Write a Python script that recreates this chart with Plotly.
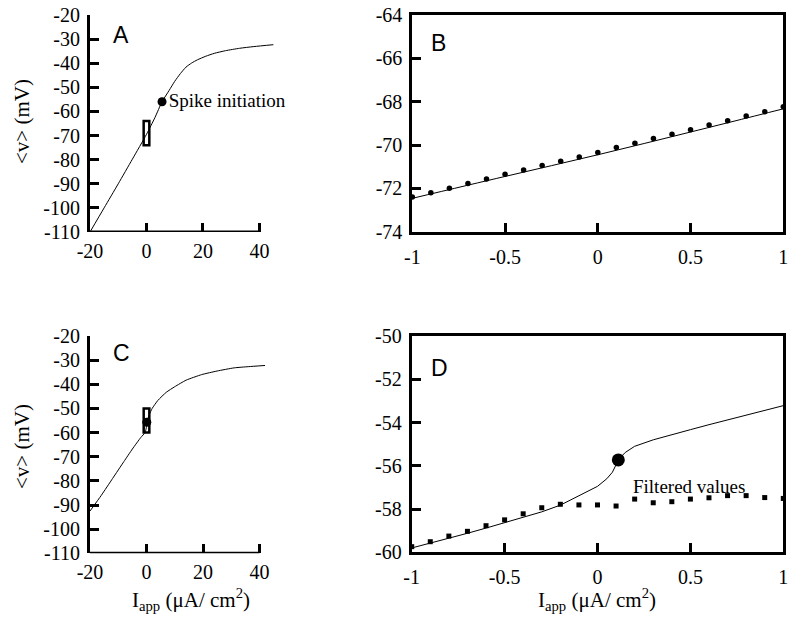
import plotly.graph_objects as go

# panel A / C: full I-V curves
a_x = [-20, -15, -10, -5, 0, 3, 5.5, 8, 10, 12, 14, 16, 18, 21, 24, 28, 33, 38, 45]
a_y = [-110, -100, -90, -79.8, -69.5, -62.5, -56, -51.3, -47.5, -44.3, -41.6, -39.9, -38.6, -37.1, -35.9, -34.8, -33.8, -33.1, -32.3]
a_spike = (5.5, -56)

c_x = [-20, -16, -12, -8, -5, -2, -0.5, 0, 0.1, 1, 2, 4, 7, 10, 14, 19.5, 25, 31, 36, 42]
c_y = [-92.5, -86, -79, -72, -66.8, -62, -60, -57.5, -55.7, -52.5, -50, -46.7, -43.3, -41, -38.3, -36, -34.5, -33.2, -32.7, -32.2]
c_spike = (0.1, -55.7)

# panel B: zoom near 0
b_line_x = [-1, -0.5, 0, 0.5, 1]
b_line_y = [-72.46, -71.45, -70.45, -69.4, -68.33]
fine_x = [-1, -0.9, -0.8, -0.7, -0.6, -0.5, -0.4, -0.3, -0.2, -0.1, 0,
          0.1, 0.2, 0.3, 0.4, 0.5, 0.6, 0.7, 0.8, 0.9, 1]
b_dots = [-72.4, -72.2, -72.0, -71.77, -71.57, -71.35, -71.15, -70.95, -70.75, -70.55, -70.34,
          -70.12, -69.92, -69.7, -69.5, -69.29, -69.08, -68.88, -68.66, -68.46, -68.23]

# panel D
d_line_x = [-1, -0.9, -0.8, -0.7, -0.6, -0.5, -0.4, -0.3, -0.2, -0.1, 0, 0.05, 0.08, 0.1, 0.11,
            0.15, 0.2, 0.3, 0.4, 0.5, 0.6, 0.7, 0.8, 0.9, 1.0]
d_line_y = [-59.8, -59.58, -59.35, -59.12, -58.88, -58.63, -58.38, -58.13, -57.82, -57.38, -56.95,
            -56.6, -56.3, -55.95, -55.73, -55.38, -55.1, -54.8, -54.55, -54.33, -54.1, -53.88,
            -53.67, -53.45, -53.22]
d_dots = [-59.74, -59.51, -59.25, -59.03, -58.77, -58.5, -58.22, -57.94, -57.78, -57.81, -57.81,
          -57.86, -57.54, -57.71, -57.66, -57.54, -57.48, -57.38, -57.38, -57.47, -57.51]
d_spike = (0.112, -55.73)

big_ticks_x = [-20, 0, 20, 40]
big_ticks_y = [-110, -100, -90, -80, -70, -60, -50, -40, -30, -20]
small_ticks_x = [-1, -0.5, 0, 0.5, 1]
b_ticks_y = [-74, -72, -70, -68, -66, -64]
d_ticks_y = [-60, -58, -56, -54, -52, -50]


def lab(vals):
    return [("%g" % v) for v in vals]


# the page has an 8px body margin, so the figure is 792x612 placed at (8, 8)
W, H, OFF = 792, 612, 8


def px(x):
    return (x - OFF) / W


def py(y):
    return 1 - (y - OFF) / H


serif = "Liberation Serif"
tickfont = dict(family=serif, size=20, color="black")

fig = go.Figure()
fig.add_trace(go.Scatter(x=a_x, y=a_y, mode="lines", line=dict(color="black", width=1, shape="spline", smoothing=0.6), xaxis="x", yaxis="y"))
fig.add_trace(go.Scatter(x=[a_spike[0]], y=[a_spike[1]], mode="markers+text", text=["Spike initiation"], textposition="middle right",
                         textfont=dict(family=serif, size=19, color="black"), cliponaxis=False,
                         marker=dict(color="black", size=9), xaxis="x", yaxis="y"))
fig.add_trace(go.Scatter(x=b_line_x, y=b_line_y, mode="lines", line=dict(color="black", width=1, shape="spline"), xaxis="x2", yaxis="y2"))
fig.add_trace(go.Scatter(x=fine_x, y=b_dots, mode="markers", marker=dict(color="black", size=5.5), xaxis="x2", yaxis="y2", cliponaxis=False))
fig.add_trace(go.Scatter(x=c_x, y=c_y, mode="lines", line=dict(color="black", width=1, shape="spline", smoothing=0.5), xaxis="x3", yaxis="y3"))
fig.add_trace(go.Scatter(x=[c_spike[0]], y=[c_spike[1]], mode="markers", marker=dict(color="black", size=9), xaxis="x3", yaxis="y3"))
fig.add_trace(go.Scatter(x=d_line_x, y=d_line_y, mode="lines", line=dict(color="black", width=1), xaxis="x4", yaxis="y4"))
fig.add_trace(go.Scatter(x=fine_x, y=d_dots, mode="markers", marker=dict(color="black", size=5, symbol="square"), xaxis="x4", yaxis="y4", cliponaxis=False))
fig.add_trace(go.Scatter(x=[d_spike[0]], y=[d_spike[1]], mode="markers", marker=dict(color="black", size=13), xaxis="x4", yaxis="y4"))

common = dict(showgrid=False, zeroline=False, ticks="inside", ticklen=9, tickwidth=3, tickcolor="black",
              linecolor="black", linewidth=3, tickfont=tickfont, automargin=False, ticklabeloverflow="allow")
xcommon = dict(ticklabelstandoff=5, **common)
ycommon = dict(ticklabelstandoff=3, **common)

fig.update_layout(
    width=W, height=H, showlegend=False, paper_bgcolor="white", plot_bgcolor="white",
    margin=dict(l=0, r=0, t=0, b=0),
    xaxis=dict(domain=[px(90), px(273.6)], range=[-20, 45], anchor="y", tickvals=big_ticks_x, ticktext=lab(big_ticks_x), showline=False, **xcommon),
    yaxis=dict(domain=[py(232), py(15)], range=[-110, -20], anchor="x", tickvals=big_ticks_y, ticktext=lab(big_ticks_y), showline=True, **ycommon),
    xaxis2=dict(domain=[px(412.3), px(783.3)], range=[-1, 1], anchor="y2", tickvals=small_ticks_x, ticktext=lab(small_ticks_x), showline=True, mirror=True, **xcommon),
    yaxis2=dict(domain=[py(231.7), py(15)], range=[-74, -64], anchor="x2", tickvals=b_ticks_y, ticktext=lab(b_ticks_y), showline=True, mirror=True, **ycommon),
    xaxis3=dict(domain=[px(90), px(265.2)], range=[-20, 42], anchor="y3", tickvals=big_ticks_x, ticktext=lab(big_ticks_x), showline=False, **xcommon),
    yaxis3=dict(domain=[py(553.3), py(336)], range=[-110, -20], anchor="x3", tickvals=big_ticks_y, ticktext=lab(big_ticks_y), showline=True, **ycommon),
    xaxis4=dict(domain=[px(411.7), px(783.3)], range=[-1, 1], anchor="y4", tickvals=small_ticks_x, ticktext=lab(small_ticks_x), showline=True, mirror=True, **xcommon),
    yaxis4=dict(domain=[py(552.3), py(336)], range=[-60, -50], anchor="x4", tickvals=d_ticks_y, ticktext=lab(d_ticks_y), showline=True, mirror=True, **ycommon),
)

# x axis lines of A and C stop at the last tick
for xr, yr in [("x", "y"), ("x3", "y3")]:
    fig.add_shape(type="line", xref=xr, yref=yr, x0=-20, x1=40, y0=-110, y1=-110, line=dict(color="black", width=3))
# boxes marking the zoomed windows
fig.add_shape(type="rect", xref="x", yref="y", x0=-1, x1=1, y0=-74, y1=-64, line=dict(color="black", width=2.5))
fig.add_shape(type="rect", xref="x3", yref="y3", x0=-1, x1=1, y0=-60, y1=-50, line=dict(color="black", width=2.5))

centered = dict(xref="paper", yref="paper", showarrow=False, xanchor="center", yanchor="middle")

panel_font = dict(family="Liberation Sans", size=23, color="black")
for txt, x, y in [("A", 121, 35), ("B", 438, 43), ("C", 121, 353), ("D", 440, 368)]:
    fig.add_annotation(text=txt, x=px(x), y=py(y), font=panel_font, **centered)

fig.add_annotation(text="Filtered values", x=0.49, y=-56.95, xref="x4", yref="y4", showarrow=False,
                   xanchor="center", yanchor="middle", font=dict(family=serif, size=19, color="black"))

title_font = dict(family=serif, size=21, color="black")
for yc in [122, 447]:
    fig.add_annotation(text="&lt;v&gt; (mV)", x=px(22), y=py(yc), textangle=-90, font=title_font, **centered)
for xc in [191, 597]:
    fig.add_annotation(text="I<sub>app</sub> (μA/ cm<sup>2</sup>)", x=px(xc), y=py(599), font=title_font, **centered)

fig.write_html("out.html")
